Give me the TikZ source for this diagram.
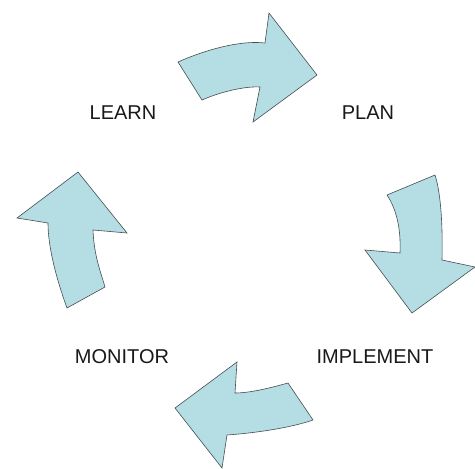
\documentclass[tikz,border=0pt]{standalone}
\usepackage{fontspec}
\setmainfont{Liberation Sans}
\usepackage{tikz}
\definecolor{arrowfill}{RGB}{180,221,228}
\definecolor{arrowline}{RGB}{70,78,80}

\begin{document}
\begin{tikzpicture}[x=1pt,y=-1pt,
        cyclearrow/.style={fill=arrowfill,draw=arrowline,line width=0.6pt,line join=miter},
        steplabel/.style={inner sep=0pt,text=black!90,font=\fontsize{20}{24}\selectfont}]
        \useasboundingbox[fill=white] (0,0) rectangle (475,469);
        % top arrow
        \draw[cyclearrow] (178,62) .. controls (205,50) and (240,40) .. (265,43) -- (269,13) -- (317,75)
            -- (253,122) -- (260,87) .. controls (245,86) and (220,92) .. (202,100) -- cycle;
        % right arrow
        \draw[cyclearrow] (387,195) .. controls (397,210) and (401,230) .. (400,253) -- (365,250) -- (412,313)
            -- (475,267) -- (442,260) .. controls (443,220) and (440,190) .. (435,175) -- cycle;
        % bottom arrow
        \draw[cyclearrow] (288,383) .. controls (270,388) and (250,393) .. (235,393) -- (237,362) -- (175,408)
            -- (222,468) -- (227,435) .. controls (255,433) and (290,428) .. (313,420) -- cycle;
        % left arrow
        \draw[cyclearrow] (67,308) .. controls (55,275) and (48,245) .. (48,223) -- (17,218) -- (78,172)
            -- (127,233) -- (93,230) .. controls (94,255) and (100,270) .. (105,287) -- cycle;
        \node[steplabel] (learn) at (123,113) {LEARN};
        \node[steplabel] (plan) at (368,113) {PLAN};
        \node[steplabel] (implement) at (375,357) {IMPLEMENT};
        \node[steplabel] (monitor) at (122,357) {MONITOR};
    \end{tikzpicture}
\end{document}
